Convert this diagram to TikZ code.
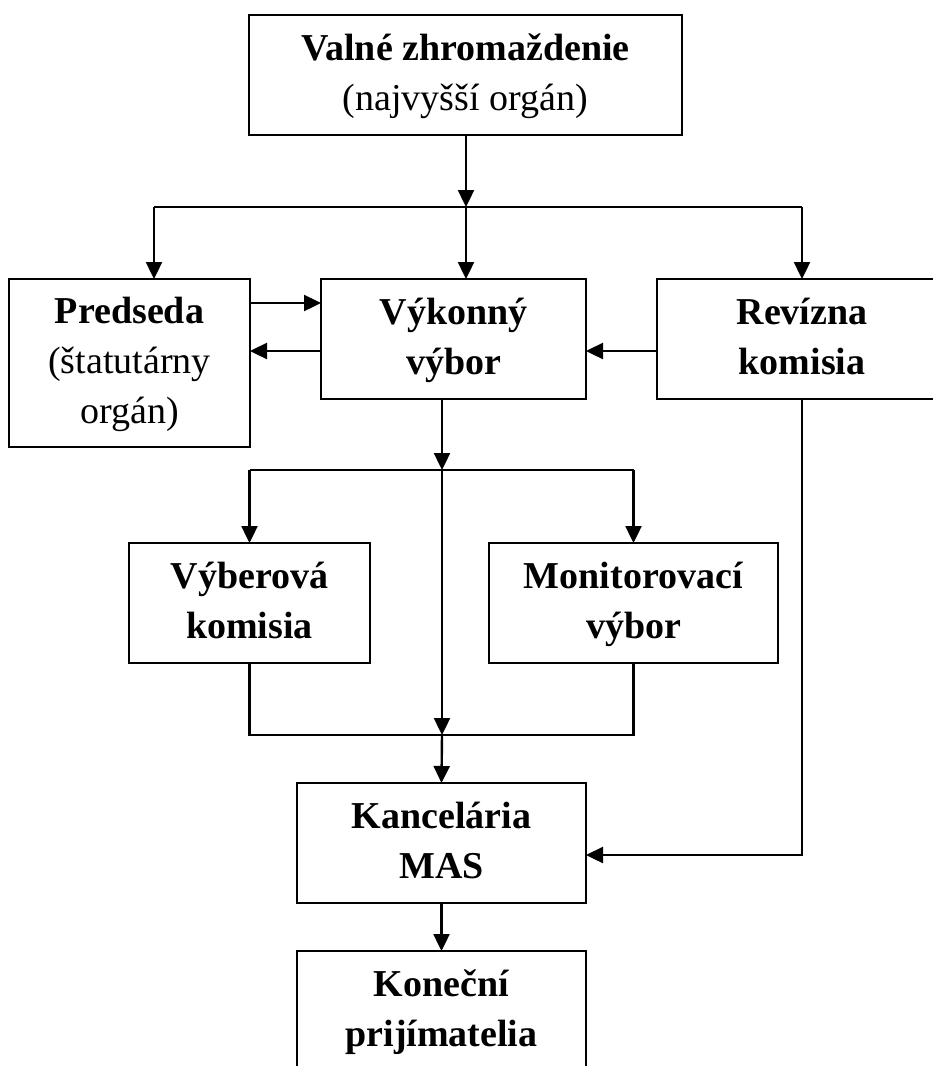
\documentclass[tikz,border=0pt]{standalone}
\usepackage{fontspec}
\setmainfont{Liberation Serif}
\usetikzlibrary{arrows.meta}

\begin{document}
\begin{tikzpicture}[x=1pt, y=-1pt,
    box/.style={draw, line width=2.2pt, inner sep=0pt, outer sep=0pt, align=center,
      minimum height=120pt, font=\fontsize{38}{50}\selectfont},
    arr/.style={line width=2.4pt, -{Triangle[length=17pt, width=16pt]}},
    conn/.style={line width=2.2pt}]
    \useasboundingbox (0, 0) rectangle (933, 1066);
    \clip (0, 0) rectangle (933, 1066);

    \node[box, minimum width=433pt] (zhromazdenie) at (465.5, 75)
      {\strut\textbf{Valné zhromaždenie}\\\strut(najvyšší orgán)};
    \node[box, minimum width=241pt, minimum height=168pt] (predseda) at (129.5, 363)
      {\strut\textbf{Predseda}\\\strut(štatutárny\\\strut orgán)};
    \node[box, minimum width=265pt] (vykonny) at (453.5, 339)
      {\strut\textbf{Výkonný}\\\strut\textbf{výbor}};
    \node[box, minimum width=290pt] (revizna) at (802, 339)
      {\strut\textbf{Revízna}\\\strut\textbf{komisia}};
    \node[box, minimum width=241pt] (vyberova) at (249.5, 603)
      {\strut\textbf{Výberová}\\\strut\textbf{komisia}};
    \node[box, minimum width=289pt] (monitorovaci) at (633.5, 603)
      {\strut\textbf{Monitorovací}\\\strut\textbf{výbor}};
    \node[box, minimum width=289pt] (kancelaria) at (441.5, 843)
      {\strut\textbf{Kancelária}\\\strut\textbf{MAS}};
    \node[box, minimum width=289pt] (prijimatelia) at (441.5, 1011)
      {\strut\textbf{Koneční}\\\strut\textbf{prijímatelia}};

    % rozvetvenia
    \coordinate (vetva1) at (154, 207);
    \coordinate (vetva2) at (466, 207);
    \coordinate (vetva3) at (802, 207);
    \coordinate (hore) at (0, 303);
    \coordinate (dole) at (0, 351);
    \coordinate (uzol1) at (442, 470);
    \coordinate (uzol2) at (442, 735);
    \coordinate (roh) at (802, 855);

    \draw[arr] (zhromazdenie.south -| vetva2) -- (vetva2);
    \draw[conn] (vetva1) -- (vetva3);
    \draw[arr] (vetva1) -- (vetva1 |- predseda.north);
    \draw[arr] (vetva2) -- (vetva2 |- vykonny.north);
    \draw[arr] (vetva3) -- (revizna.north);

    \draw[arr] (predseda.east |- hore) -- (vykonny.west |- hore);
    \draw[arr] (vykonny.west |- dole) -- (predseda.east |- dole);
    \draw[arr] (revizna.west |- dole) -- (vykonny.east |- dole);

    \draw[arr] (uzol1 |- vykonny.south) -- (uzol1);
    \draw[conn] (uzol1 -| vyberova) -- (uzol1 -| monitorovaci);
    \draw[arr] (uzol1 -| vyberova) -- (vyberova.north);
    \draw[arr] (uzol1 -| monitorovaci) -- (monitorovaci.north);
    \draw[arr] (uzol1) -- (uzol2);
    \draw[conn] (vyberova.south) |- (uzol2) -| (monitorovaci.south);
    \draw[arr] (uzol2) -- (kancelaria.north);

    \draw[arr] (revizna.south) -- (roh) -- (roh -| kancelaria.east);
    \draw[arr] (kancelaria.south) -- (prijimatelia.north);
\end{tikzpicture}
\end{document}
